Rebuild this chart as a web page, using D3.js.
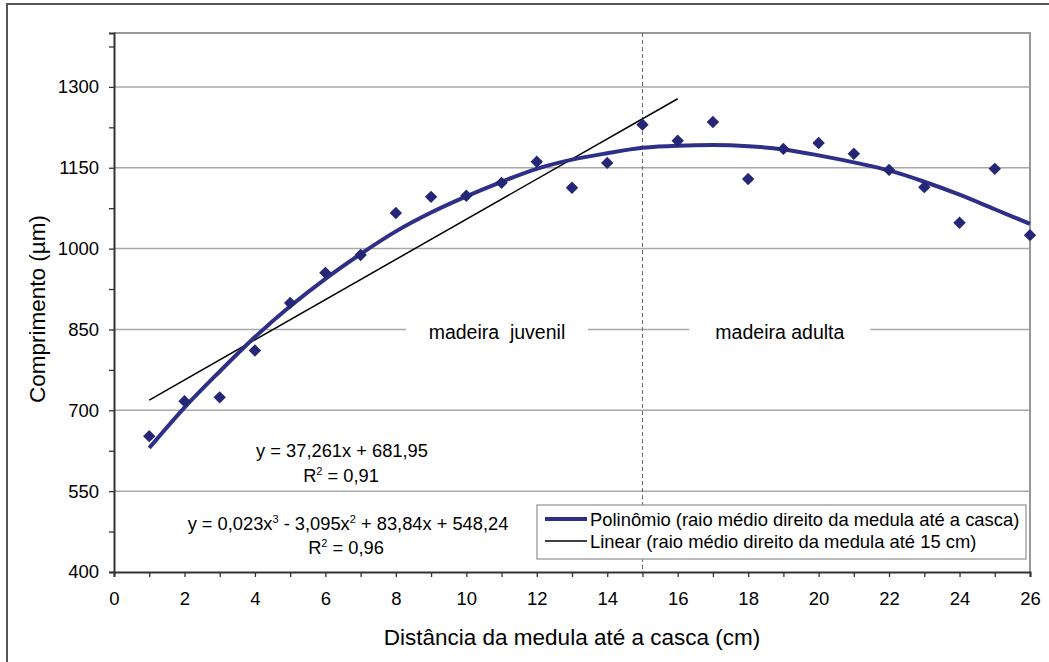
<!DOCTYPE html>
<html><head><meta charset="utf-8">
<script src="https://cdn.jsdelivr.net/npm/d3@7/dist/d3.min.js"></script>
<style>
body{margin:0;background:#fff}
svg{display:block}
text{font-family:"Liberation Sans",Arial,sans-serif;fill:#000}
</style>
</head><body>
<svg id="chart" width="1049" height="662"></svg>
<script>
// ---- data ----
const distance = [1,2,3,4,5,6,7,8,9,10,11,12,13,14,15,16,17,18,19,20,21,22,23,24,25,26];
const comprimento = [652,717,724,811,899,955,988,1066,1096,1098,1122,1161,1113,1159,1230,1200,1235,1129,1185,1196,1176,1146,1114,1048,1148,1025];
const polyTrend = [630,705,772,836,893,944,990,1032,1067,1097,1124,1148,1165,1177,1187,1191,1192,1190,1184,1173,1160,1145,1124,1100,1073,1046];
const linearX = [1,16];
const linearY = [719,1278];
const xTicks = [0,2,4,6,8,10,12,14,16,18,20,22,24,26];
const yTicks = [400,550,700,850,1000,1150,1300];
const boundaryX = 15;
const zoneLabels = ["madeira  juvenil","madeira adulta"];
const eqLinear = ["y = 37,261x + 681,95","0,91"];
const eqPoly = ["0,023","3","3,095","2","83,84x + 548,24","0,96"];
const legendLabels = ["Polinômio (raio médio direito da medula até a casca)","Linear (raio médio direito da medula até 15 cm)"];
const xTitle = "Distância da medula até a casca (cm)";
const yTitle = "Comprimento (µm)";

// ---- layout ----
const svg = d3.select("#chart");
const L = 114, R = 1030, T = 33, B = 572;
const x = d3.scaleLinear().domain([0,26]).range([L,R]);
const y = d3.scaleLinear().domain([400,1400]).range([B,T]);
const navy = "#242676";

// chart area border
svg.append("rect").attr("x",7).attr("y",4).attr("width",1060).attr("height",700)
  .attr("fill","none").attr("stroke","#555").attr("stroke-width",2);

// gridlines
svg.append("g").selectAll("line").data(yTicks.filter(v=>v>400)).join("line")
  .attr("x1",L).attr("x2",R).attr("y1",d=>y(d)).attr("y2",d=>y(d))
  .attr("stroke","#a8a8a8").attr("stroke-width",1.5);

// plot area border (top/right)
svg.append("path").attr("d",`M${L},${T}H${R}V${B}`).attr("fill","none")
  .attr("stroke","#999").attr("stroke-width",2);

// zone label backgrounds & labels
const zoneX = [10.87, 18.9];
const zoneW = [182, 181];
zoneLabels.forEach((t,i)=>{
  svg.append("rect").attr("x",x(zoneX[i])-zoneW[i]/2).attr("y",y(850)-12)
    .attr("width",zoneW[i]).attr("height",24).attr("fill","#fff");
  svg.append("text").attr("x",x(zoneX[i])).attr("y",y(850)+10)
    .attr("text-anchor","middle").attr("font-size",19.5).attr("xml:space","preserve")
    .style("white-space","pre").text(t);
});

// boundary dashed line
svg.append("line").attr("x1",x(boundaryX)).attr("x2",x(boundaryX)).attr("y1",T).attr("y2",B)
  .attr("stroke","#666").attr("stroke-width",1).attr("stroke-dasharray","4,3");

// axes
const yAxis = d3.axisLeft(y).tickValues(d3.range(400,1401,75)).tickSize(5)
  .tickFormat(d=> yTicks.includes(d) ? d : "");
const gy = svg.append("g").attr("transform",`translate(${L},0)`).call(yAxis);
const xAxis = d3.axisBottom(x).tickValues(d3.range(0,27,1)).tickSize(5)
  .tickFormat(d=> xTicks.includes(d) ? d : "");
const gx = svg.append("g").attr("transform",`translate(0,${B})`).call(xAxis);
[gx,gy].forEach(g=>{
  g.select(".domain").attr("stroke","#333").attr("stroke-width",2);
  g.selectAll(".tick line").attr("stroke","#333").attr("stroke-width",1.3);
  g.selectAll(".tick text").attr("font-family","Liberation Sans, Arial, sans-serif")
    .attr("font-size",18.5).attr("fill","#000");
});
gy.selectAll(".tick text").attr("x",-15);
gx.selectAll(".tick text").attr("y",20);

// linear trend
svg.append("path").datum(linearX.map((d,i)=>[d,linearY[i]]))
  .attr("d",d3.line().x(d=>x(d[0])).y(d=>y(d[1])))
  .attr("fill","none").attr("stroke","#000").attr("stroke-width",1.5);

// polynomial trend
svg.append("path").datum(distance.map((d,i)=>[d,polyTrend[i]]))
  .attr("d",d3.line().curve(d3.curveMonotoneX).x(d=>x(d[0])).y(d=>y(d[1])))
  .attr("fill","none").attr("stroke","#2e3088").attr("stroke-width",4);

// markers
svg.append("g").selectAll("path").data(distance.map((d,i)=>[d,comprimento[i]])).join("path")
  .attr("transform",d=>`translate(${x(d[0])},${y(d[1])})`)
  .attr("d",d3.symbol().type(d3.symbolDiamond2).size(98))
  .attr("fill",navy);

// equations
const fs = 18.3, sup = 11;
const eq1 = svg.append("g").attr("font-size",fs);
eq1.append("text").attr("x",342).attr("y",457).attr("text-anchor","middle").text(eqLinear[0]);
const r1 = eq1.append("text").attr("x",341).attr("y",482).attr("text-anchor","middle");
r1.append("tspan").text("R");
r1.append("tspan").attr("dy",-7).attr("font-size",sup).text("2");
r1.append("tspan").attr("dy",7).text(" = "+eqLinear[1]);

const eq2 = svg.append("g").attr("font-size",fs);
const p = eq2.append("text").attr("x",348).attr("y",530).attr("text-anchor","middle");
p.append("tspan").text("y = "+eqPoly[0]+"x");
p.append("tspan").attr("dy",-7).attr("font-size",sup).text(eqPoly[1]);
p.append("tspan").attr("dy",7).text(" - "+eqPoly[2]+"x");
p.append("tspan").attr("dy",-7).attr("font-size",sup).text(eqPoly[3]);
p.append("tspan").attr("dy",7).text(" + "+eqPoly[4]);
const r2 = eq2.append("text").attr("x",346).attr("y",554).attr("text-anchor","middle");
r2.append("tspan").text("R");
r2.append("tspan").attr("dy",-7).attr("font-size",sup).text("2");
r2.append("tspan").attr("dy",7).text(" = "+eqPoly[5]);

// legend
const lg = svg.append("g");
lg.append("rect").attr("x",537).attr("y",505).attr("width",489).attr("height",54)
  .attr("fill","#fff").attr("stroke","#999").attr("stroke-width",1.3);
lg.append("line").attr("x1",545).attr("x2",587).attr("y1",519).attr("y2",519)
  .attr("stroke","#2e3088").attr("stroke-width",4);
lg.append("line").attr("x1",545).attr("x2",587).attr("y1",541).attr("y2",541)
  .attr("stroke","#000").attr("stroke-width",1.5);
lg.append("text").attr("x",590).attr("y",526).attr("font-size",18.4).text(legendLabels[0]);
lg.append("text").attr("x",590).attr("y",548).attr("font-size",18.4).text(legendLabels[1]);

// axis titles
svg.append("text").attr("x",572).attr("y",645).attr("text-anchor","middle")
  .attr("font-size",22.5).text(xTitle);
svg.append("text").attr("transform","translate(45,309) rotate(-90)").attr("text-anchor","middle")
  .attr("font-size",22.5).text(yTitle);
</script>
</body></html>
